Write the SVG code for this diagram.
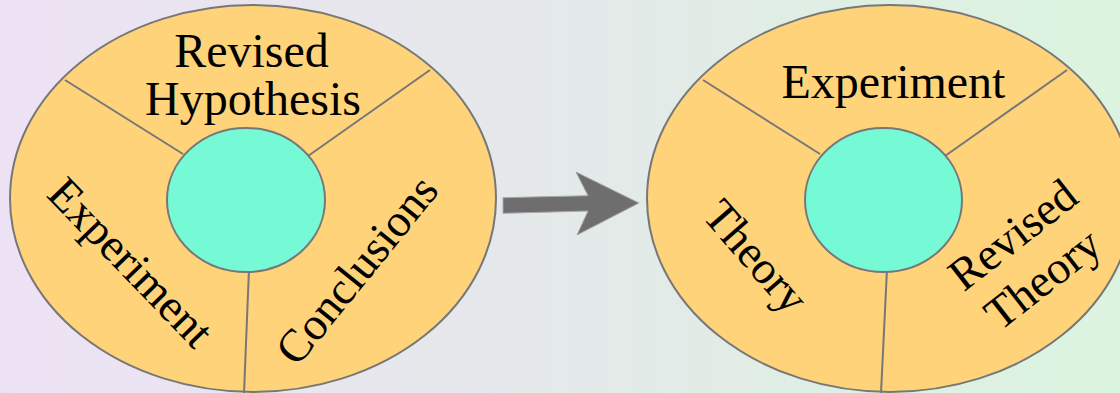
<svg xmlns="http://www.w3.org/2000/svg" width="1120" height="393" viewBox="0 0 1120 393">
<defs>
<linearGradient id="bg" x1="0" y1="0" x2="1" y2="0">
<stop offset="0" stop-color="#ede2f4"/>
<stop offset="0.5" stop-color="#e4e9e9"/>
<stop offset="1" stop-color="#dbf4df"/>
</linearGradient>
</defs>
<style>
.outer{fill:#fed37a;stroke:#777;stroke-width:2}
.inner{fill:#75fad5;stroke:#777;stroke-width:2}
.div{stroke:#777;stroke-width:2;fill:none}
.t{font-family:"Liberation Serif","Times New Roman",serif;fill:#000;text-anchor:middle}
.h{font-size:48px}
.r{font-size:46px}
.arrow{fill:#6e6e6e;stroke:#a8a8a8;stroke-width:1}
</style>
<rect x="0" y="0" width="1120" height="393" fill="url(#bg)"/>
<g id="cycle-left">
<ellipse class="outer" cx="253" cy="198.5" rx="243" ry="193.5"/>
<line class="div" x1="65" y1="80" x2="183" y2="154"/>
<line class="div" x1="430" y1="70" x2="308" y2="156"/>
<line class="div" x1="249" y1="269" x2="244" y2="393"/>
<ellipse class="inner" cx="246" cy="200" rx="79" ry="72"/>
<text class="t h" x="251.5" y="66.5">Revised</text>
<text class="t h" x="253" y="115">Hypothesis</text>
<text class="t r" transform="translate(127 266) rotate(46)" x="0" y="10">Experiment</text>
<text class="t r" transform="translate(357 270) rotate(-51)" x="0" y="15">Conclusions</text>
</g>
<g id="cycle-right">
<ellipse class="outer" cx="890" cy="198.5" rx="243" ry="193.5"/>
<line class="div" x1="703" y1="80" x2="820" y2="154"/>
<line class="div" x1="1067" y1="70" x2="945" y2="156"/>
<line class="div" x1="887" y1="269" x2="881" y2="393"/>
<ellipse class="inner" cx="883.5" cy="200" rx="78.5" ry="72"/>
<text class="t h" x="893.5" y="98">Experiment</text>
<text class="t r" transform="translate(752 260) rotate(49)" x="0" y="10">Theory</text>
<text class="t r" transform="translate(1013 235) rotate(-38)" x="0" y="15">Revised</text>
<text class="t r" transform="translate(1046 283) rotate(-38)" x="0" y="10">Theory</text>
</g>
<g id="connectors">
<polygon class="arrow" points="503,197.7 588,195.7 576,172 639,203 577,235 588,211 503,213.3"/>
</g>
</svg>
